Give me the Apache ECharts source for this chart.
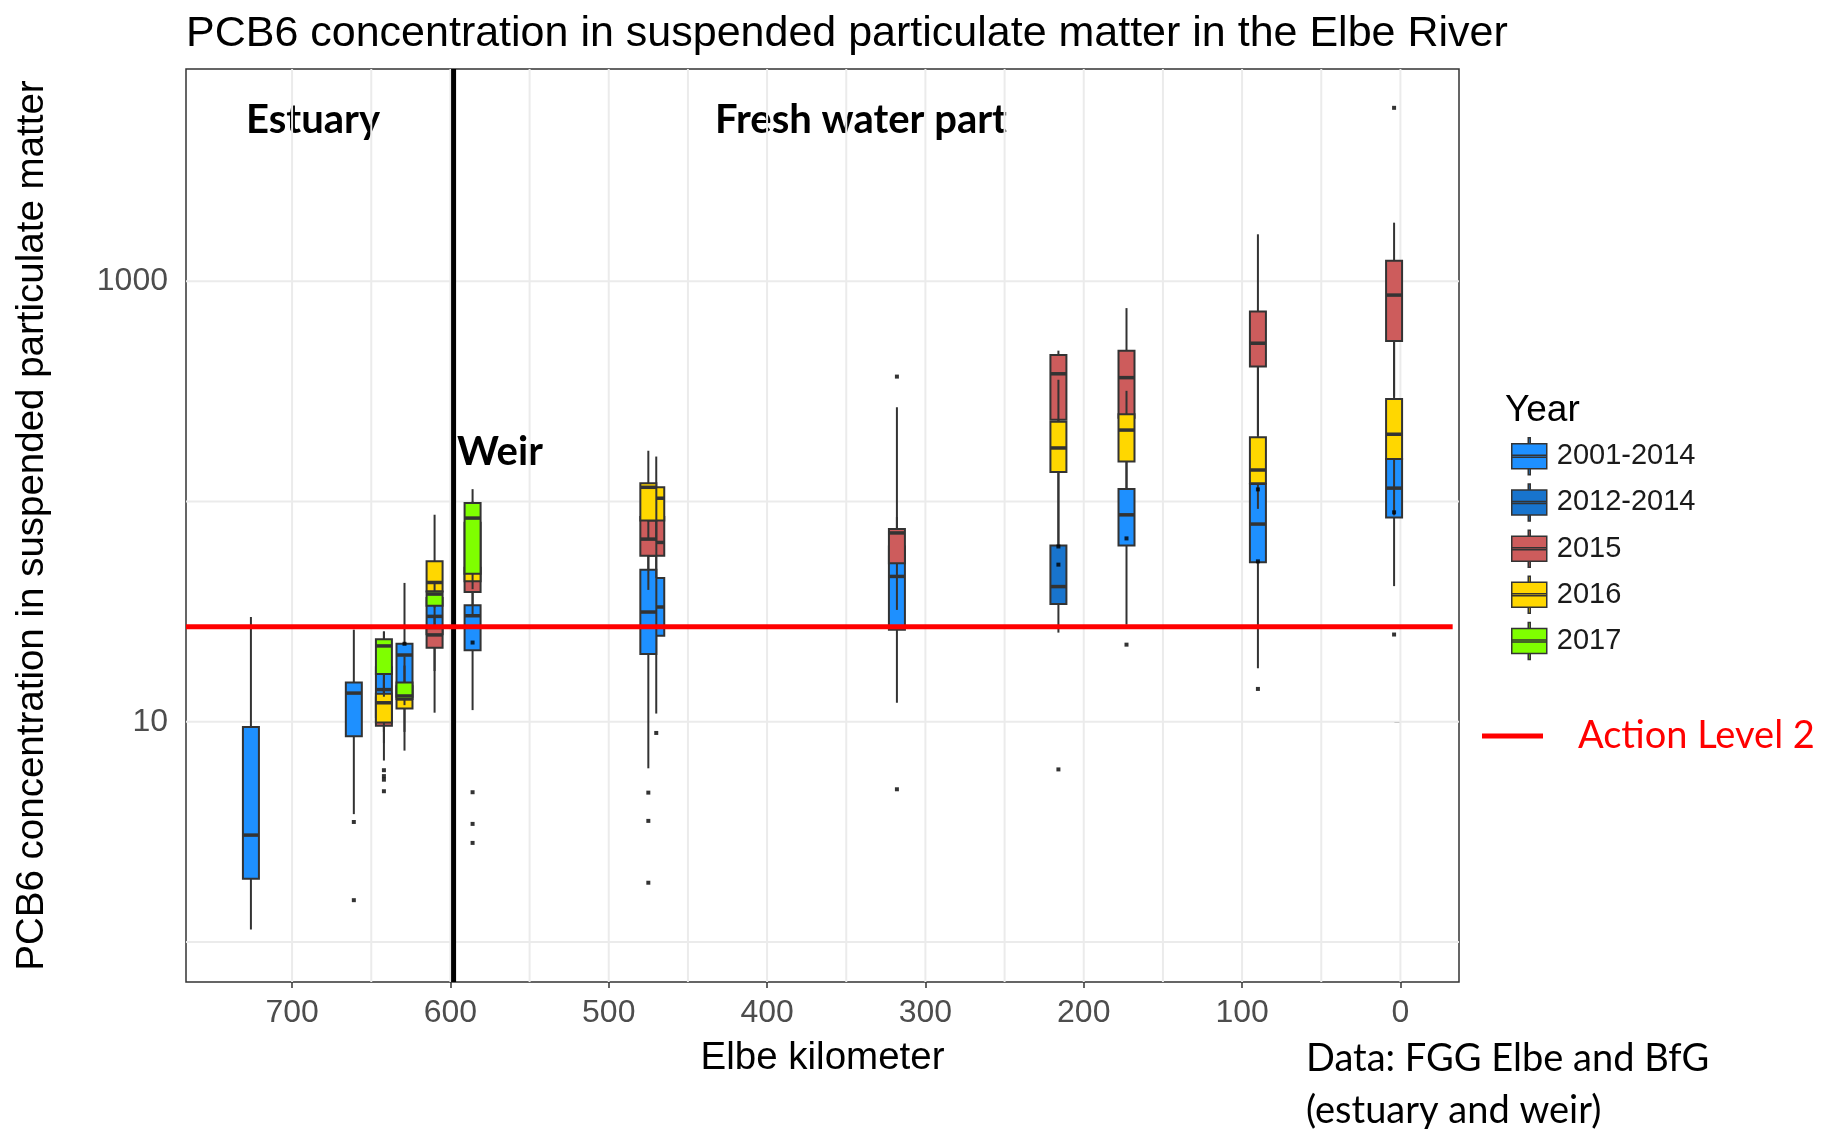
<!DOCTYPE html>
<html><head><meta charset="utf-8">
<script src="https://cdn.jsdelivr.net/npm/echarts@6/dist/echarts.min.js"></script>
<style>html,body{margin:0;padding:0;background:#fff}#c{width:1823px;height:1129px}</style>
</head><body><div id="c"></div>
<script>
// ---------- DATA ----------
const years = ['2001-2014', '2012-2014', '2015', '2016', '2017'];
const yearColors = ['#1E90FF', '#1874CD', '#CD5C5C', '#FFD700', '#7FFF00'];

// box rows: [Elbe km, lower whisker, Q1, median, Q3, upper whisker]
const boxes2001_2014 = [
  [726, 1.14, 1.94, 3.06, 9.46, 29.9],
  [661, 3.81, 8.6, 13.5, 15.1, 26.2],
  [642, 6.67, 10.5, 14.0, 17.7, 25.7],
  [629, 7.4, 13.0, 20.1, 22.6, 42.7],
  [610, 11.0, 25.0, 30.1, 36.5, 45.0],
  [586, 11.3, 21.1, 30.3, 33.8, 38.8],
  [470, 10.9, 24.6, 33.2, 45.0, 56.0],
  [475, 6.15, 20.3, 31.5, 49.0, 80.0],
  [318, 12.2, 26.2, 45.7, 62.5, 268],
  [173, 27.6, 63.2, 87.0, 114, 152],
  [90, 17.5, 53.0, 79.0, 120, 150],
  [4, 41.3, 84.5, 115, 156, 250]
];
const outliers2001_2014 = [
  [661, 3.51], [661, 1.55],
  [642, 6.03], [642, 5.67], [642, 5.46], [642, 4.84],
  [586, 4.79], [586, 3.44], [586, 2.82],
  [475, 4.77], [475, 3.55], [475, 1.86],
  [470, 8.9],
  [318, 4.94], [318, 369],
  [173, 22.4],
  [90, 14.1],
  [4, 24.9]
];
const boxes2012_2014 = [
  [216, 25.4, 34.3, 41.1, 63.2, 136]
];
const outliers2012_2014 = [
  [216, 6.08]
];
const boxes2015 = [
  [642, 8.0, 9.6, 11.2, 12.9, 17.7],
  [610, 17.0, 21.7, 24.8, 26.6, 30.0],
  [586, 30.6, 38.8, 44.0, 50.0, 60.0],
  [470, 45.0, 56.7, 65.2, 85.0, 100],
  [475, 39.7, 56.7, 67.5, 85.0, 100],
  [318, 32.2, 52.5, 72.0, 75.0, 85.0],
  [216, 150, 235, 380, 463, 484],
  [173, 160, 240, 365, 483, 755],
  [90, 200, 410, 523, 728, 1633],
  [4, 300, 535, 865, 1238, 1844]
];
const outliers2015 = [
  [216, 62.5], [216, 51.7],
  [173, 68.0],
  [90, 113.5], [90, 53.5],
  [4, 6124], [4, 89.3]
];
const boxes2016 = [
  [642, 9.0, 9.93, 12.2, 13.4, 15.5],
  [629, 9.0, 11.5, 12.7, 14.5, 18.0],
  [610, 33.0, 39.0, 42.9, 53.5, 87.1],
  [586, 40.0, 43.4, 55.0, 80.0, 100],
  [470, 66.0, 82.0, 103.5, 116, 160],
  [475, 68.2, 82.0, 116, 121, 170],
  [216, 63.2, 136, 175, 230, 357],
  [173, 114, 152, 211, 249, 318],
  [90, 92.6, 121, 139, 195.5, 410],
  [4, 86.5, 156, 202, 292, 535]
];
const outliers2016 = [
  [629, 22.6]
];
const boxes2017 = [
  [642, 13.0, 16.5, 22.1, 23.7, 25.7],
  [629, 11.9, 12.7, 13.1, 15.1, 19.8],
  [610, 27.1, 33.6, 38.0, 39.0, 42.5],
  [586, 43.4, 47.0, 84.1, 98.4, 113.8]
];
const outliers2017 = [
  [586, 22.9]
];

const actionLevel2 = 27;          // PCB6 action level 2
const actionLineKm = [767, -33];  // extent of the drawn level line (km)
const weirKm = 598;

const xTickValues = [0, 100, 200, 300, 400, 500, 600, 700];
const xGridValues = [0, 50, 100, 150, 200, 250, 300, 350, 400, 450, 500, 550, 600, 650, 700];
const yTickValues = [10, 1000];
const yGridValues = [1, 10, 100, 1000];
const xRange = [-37, 767];
const yRange = [0.659, 9190];

// ---------- CHART ----------
const boxSets = [boxes2001_2014, boxes2012_2014, boxes2015, boxes2016, boxes2017];
const outlierSets = [outliers2001_2014, outliers2012_2014, outliers2015, outliers2016, outliers2017];

const BOX_W = 16;
const EDGE = '#333333';

function renderBox(params, api) {
  const km = api.value(0);
  const pMin = api.coord([km, api.value(1)]);
  const pQ1 = api.coord([km, api.value(2)]);
  const pMed = api.coord([km, api.value(3)]);
  const pQ3 = api.coord([km, api.value(4)]);
  const pMax = api.coord([km, api.value(5)]);
  const cx = pMed[0], h = BOX_W / 2;
  return {
    type: 'group',
    children: [
      {type: 'line', shape: {x1: cx, y1: pMax[1], x2: cx, y2: pMin[1]}, style: {stroke: EDGE, lineWidth: 2}},
      {type: 'rect', shape: {x: cx - h, y: pQ3[1], width: BOX_W, height: pQ1[1] - pQ3[1]},
        style: {fill: api.visual('color'), stroke: EDGE, lineWidth: 2}},
      {type: 'line', shape: {x1: cx - h, y1: pMed[1], x2: cx + h, y2: pMed[1]}, style: {stroke: EDGE, lineWidth: 3.5}}
    ]
  };
}

function renderVGrid(params, api) {
  const cs = params.coordSys;
  const x = api.coord([api.value(0), 1])[0];
  return {type: 'line', silent: true, shape: {x1: x, y1: cs.y, x2: x, y2: cs.y + cs.height},
    style: {stroke: '#EBEBEB', lineWidth: 2}};
}
function renderHGrid(params, api) {
  const cs = params.coordSys;
  const y = api.coord([0, api.value(1)])[1];
  return {type: 'line', silent: true, shape: {x1: cs.x, y1: y, x2: cs.x + cs.width, y2: y},
    style: {stroke: '#EBEBEB', lineWidth: 2}};
}

const ICON = 'path://M16.5,0 H18.5 V6 H16.5 Z M0,6 H35 V31 H0 Z M0,17.5 H35 V19.5 H0 Z M16.5,31 H18.5 V37 H16.5 Z';

const series = [
  {type: 'custom', name: 'vgrid', renderItem: renderVGrid, data: xGridValues.map(v => [v, 1]),
    encode: {x: 0, y: 1}, silent: true, z: 1},
  {type: 'custom', name: 'hgrid', renderItem: renderHGrid, data: yGridValues.map(v => [0, v]),
    encode: {x: 0, y: 1}, silent: true, z: 1}
];
years.forEach((yr, i) => {
  series.push({
    type: 'scatter', name: yr + ' outliers', data: outlierSets[i], symbol: 'rect', symbolSize: 4,
    itemStyle: {color: '#000'}, z: 2, silent: true
  });
  series.push({
    type: 'custom', name: yr, renderItem: renderBox, data: boxSets[i],
    encode: {x: 0, y: [1, 2, 3, 4, 5]},
    itemStyle: {color: yearColors[i], borderColor: EDGE, borderWidth: 1.5}, z: 2, silent: true
  });
});
series.push({
  type: 'line', name: 'Weir', data: [[weirKm, yRange[0]], [weirKm, yRange[1]]], symbol: 'none',
  lineStyle: {color: '#000', width: 5}, z: 3, silent: true
});
series.push({
  type: 'line', name: 'Action Level 2', data: actionLineKm.map(k => [k, actionLevel2]), symbol: 'none',
  lineStyle: {color: '#FF0000', width: 5}, itemStyle: {color: '#FF0000'}, z: 4, silent: true
});

const SANS = "'Liberation Sans', Arial, sans-serif";
const option = {
  animation: false,
  backgroundColor: '#fff',
  title: {
    text: 'PCB6 concentration in suspended particulate matter in the Elbe River',
    left: 186, top: 13, padding: 0,
    textStyle: {fontFamily: SANS, fontSize: 43, fontWeight: 'normal', color: '#000'}
  },
  grid: {left: 186, right: 364, top: 69, bottom: 147, show: true, borderColor: EDGE, borderWidth: 1.5,
    backgroundColor: 'transparent'},
  xAxis: {
    type: 'value', inverse: true, min: xRange[0], max: xRange[1],
    name: 'Elbe kilometer', nameLocation: 'middle', nameGap: 57,
    nameTextStyle: {fontFamily: SANS, fontSize: 38.5, color: '#000'},
    axisLine: {show: false},
    axisTick: {show: true, length: 6, lineStyle: {color: EDGE, width: 1.5}, customValues: xTickValues},
    axisLabel: {fontFamily: SANS, fontSize: 32, color: '#4D4D4D', margin: 15, customValues: xTickValues},
    splitLine: {show: false}
  },
  yAxis: {
    type: 'log', logBase: 10, min: yRange[0], max: yRange[1],
    name: 'PCB6 concentration in suspended particulate matter', nameLocation: 'middle', nameGap: 134,
    nameRotate: 90,
    nameTextStyle: {fontFamily: SANS, fontSize: 38.5, color: '#000'},
    axisLine: {show: false},
    axisTick: {show: true, length: 6, lineStyle: {color: EDGE, width: 1.5}, customValues: yTickValues},
    axisLabel: {fontFamily: SANS, fontSize: 32, color: '#4D4D4D', margin: 18, customValues: yTickValues,
      formatter: v => String(Math.round(v))},
    splitLine: {show: false}
  },
  legend: [{
    data: years.map(n => ({name: n, icon: ICON})),
    orient: 'vertical', left: 1511, top: 437, padding: 0,
    itemWidth: 35, itemHeight: 37, itemGap: 7.7, selectedMode: false,
    itemStyle: {borderColor: EDGE, borderWidth: 1.5},
    textStyle: {fontFamily: SANS, fontSize: 29, color: '#1A1A1A', padding: [0, 0, 0, 5]}
  }, {
    data: [{name: 'Action Level 2', icon: 'rect'}],
    left: 1482, top: 717, padding: 0, itemWidth: 61, itemHeight: 5, selectedMode: false,
    itemStyle: {color: '#FF0000', borderWidth: 0},
    textStyle: {fontFamily: 'Lato', fontSize: 38, color: '#FF0000', padding: [0, 0, 16, 30]}
  }],
  graphic: [
    {type: 'text', left: 1505, top: 392, style: {text: 'Year', font: '37px "Liberation Sans"', fill: '#000'}},
    {type: 'text', left: 246, top: 100, style: {text: 'Estuary', font: 'bold 40px Lato', fill: '#000'}},
    {type: 'text', left: 715, top: 100, style: {text: 'Fresh water part', font: 'bold 40px Lato', fill: '#000'}},
    {type: 'text', left: 457, top: 432, style: {text: 'Weir', font: 'bold 40px Lato', fill: '#000'}},
    {type: 'text', left: 1306, top: 1040, style: {text: 'Data: FGG Elbe and BfG', font: '38px Lato', fill: '#000'}},
    {type: 'text', left: 1306, top: 1092, style: {text: '(estuary and weir)', font: '38px Lato', fill: '#000'}}
  ],
  series: series
};
const chart = echarts.init(document.getElementById('c'), null, {renderer: 'canvas'});
chart.setOption(option);
</script></body></html>
